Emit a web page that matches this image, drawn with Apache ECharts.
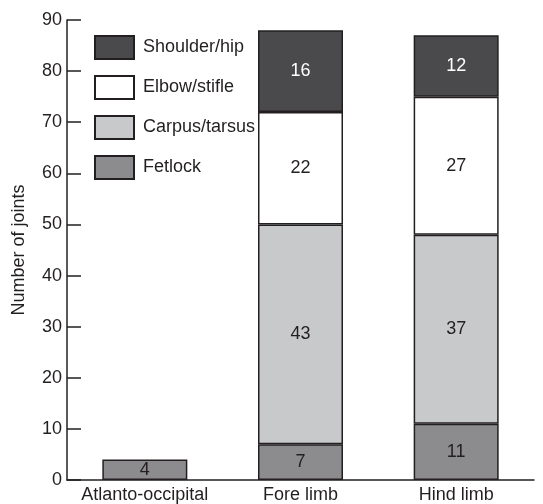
<!DOCTYPE html>
<html>
<head>
<meta charset="utf-8">
<script src="https://cdn.jsdelivr.net/npm/echarts@6/dist/echarts.min.js"></script>
<style>
  html, body { margin: 0; padding: 0; background: #fff; }
  #chart { width: 543px; height: 504px; }
</style>
</head>
<body>
<div id="chart"></div>
<script>
const categories = ['Atlanto-occipital', 'Fore limb', 'Hind limb'];
const fetlock = [4, 7, 11];
const carpusTarsus = [null, 43, 37];
const elbowStifle = [null, 22, 27];
const shoulderHip = [null, 16, 12];
const legendOrder = ['Shoulder/hip', 'Elbow/stifle', 'Carpus/tarsus', 'Fetlock'];

const font = 'Liberation Sans, Arial, sans-serif';
const ink = '#231f20';

var myChart = echarts.init(document.getElementById('chart'));

const makeSeries = (name, data, color, labelColor) => ({
	name: name,
	type: 'bar',
	stack: 'joints',
	data: data,
	barWidth: 85,
	itemStyle: {
		color: color,
		borderColor: ink,
		borderWidth: 1.5,
	},
	label: {
		show: true,
		position: 'inside',
		color: labelColor,
		fontFamily: font,
		fontSize: 18,
	},
});

var option = {
	animation: false,
	grid: {
		left: 67,
		right: 9,
		top: 20,
		bottom: 24,
		outerBoundsMode: 'none',
		containLabel: false,
	},
	legend: {
		orient: 'vertical',
		left: 94,
		top: 35,
		padding: 0,
		itemWidth: 39,
		itemHeight: 23,
		itemGap: 15,
		icon: 'rect',
		data: legendOrder,
		textStyle: {
			color: ink,
			fontFamily: font,
			fontSize: 18,
			padding: [0, 0, 0, 4],
		},
	},
	xAxis: {
		type: 'category',
		data: categories,
		axisLine: { lineStyle: { color: ink, width: 1.5 } },
		axisTick: { inside: true, length: 14, lineStyle: { color: ink, width: 1.5 } },
		axisLabel: { color: ink, fontFamily: font, fontSize: 18, margin: 6, interval: 0 },
	},
	yAxis: {
		type: 'value',
		min: 0,
		max: 90,
		interval: 10,
		name: 'Number of joints',
		nameLocation: 'middle',
		nameGap: 39,
		nameTextStyle: { color: ink, fontFamily: font, fontSize: 18 },
		splitLine: { show: false },
		axisLine: { show: true, lineStyle: { color: ink, width: 1.5 } },
		axisTick: { show: true, inside: true, length: 14, lineStyle: { color: ink, width: 1.5 } },
		axisLabel: { color: ink, fontFamily: font, fontSize: 18, margin: 5 },
	},
	series: [
		makeSeries('Fetlock', fetlock, '#8c8c8e', ink),
		makeSeries('Carpus/tarsus', carpusTarsus, '#c8c9cb', ink),
		makeSeries('Elbow/stifle', elbowStifle, '#ffffff', ink),
		makeSeries('Shoulder/hip', shoulderHip, '#4a4a4c', '#ffffff'),
	],
};

option && myChart.setOption(option);
</script>
</body>
</html>
